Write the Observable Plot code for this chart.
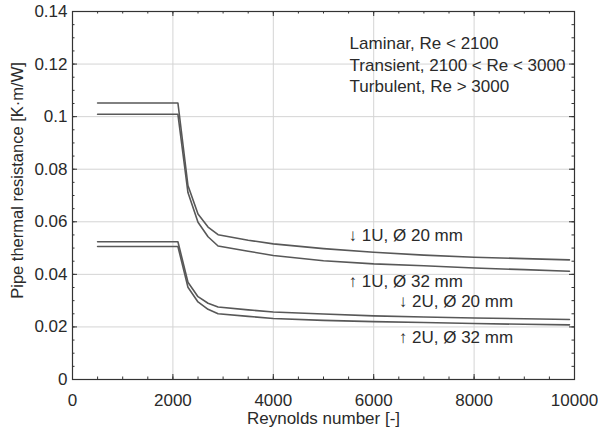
<!DOCTYPE html>
<html>
<head>
<meta charset="utf-8">
<script src="https://cdn.jsdelivr.net/npm/d3@7"></script>
<script src="https://cdn.jsdelivr.net/npm/@observablehq/plot@0.6"></script>
<style>
  html, body { margin: 0; padding: 0; background: #fff; }
</style>
</head>
<body>
<div id="chart"></div>
<script>
// Reynolds numbers sampled along the curves
const re = [500, 2100, 2300, 2500, 2700, 2900, 3500, 4000, 5000, 6000, 7000, 8000, 9000, 9900];
// Pipe thermal resistance [K·m/W]
const r1U20 = [0.1052, 0.1052, 0.0738, 0.0630, 0.0580, 0.0551, 0.0530, 0.0516, 0.0498, 0.0484, 0.0473, 0.0465, 0.0460, 0.0455];
const r1U32 = [0.1009, 0.1009, 0.0711, 0.0598, 0.0543, 0.0508, 0.0488, 0.0472, 0.0452, 0.0440, 0.0433, 0.0424, 0.0418, 0.0412];
const r2U20 = [0.0524, 0.0524, 0.0370, 0.0315, 0.0290, 0.0276, 0.0265, 0.0257, 0.0249, 0.0242, 0.0238, 0.0234, 0.0231, 0.0228];
const r2U32 = [0.0506, 0.0506, 0.0351, 0.0295, 0.0267, 0.0250, 0.0240, 0.0232, 0.0225, 0.0220, 0.0217, 0.0213, 0.0210, 0.0208];

const seriesNames = ["1U20", "1U32", "2U20", "2U32"];
const seriesValues = [r1U20, r1U32, r2U20, r2U32];

const xTicks = [0, 2000, 4000, 6000, 8000, 10000];
const yTicks = [0, 0.02, 0.04, 0.06, 0.08, 0.1, 0.12, 0.14];
const xMinor = d3.range(0, 10001, 500);
const yMinor = d3.range(0, 0.1401, 0.005);

const regimeText = ["Laminar, Re < 2100", "Transient, 2100 < Re < 3000", "Turbulent, Re > 3000"];
const regimeY = [0.1278, 0.1195, 0.1115];
const regimeX = 5520;

const curveText = ["\u2193 1U, \u00D8 20 mm", "\u2191 1U, \u00D8 32 mm", "\u2193 2U, \u00D8 20 mm", "\u2191 2U, \u00D8 32 mm"];
const curveX = [5500, 5500, 6500, 6500];
const curveY = [0.0548, 0.0373, 0.0297, 0.0160];

const xLabel = "Reynolds number [-]";
const yLabel = "Pipe thermal resistance [K\u00B7m/W]";

const rows = seriesNames.flatMap((s, i) => re.map((x, j) => ({series: s, x, y: seriesValues[i][j]})));
const regimes = regimeText.map((t, i) => ({t, x: regimeX, y: regimeY[i]}));
const curves = curveText.map((t, i) => ({t, x: curveX[i], y: curveY[i]}));

const W = 598, H = 436;
const mL = 72, mR = 24, mT = 11, mB = 57;
const iw = W - mL - mR, ih = H - mT - mB;
const ink = "#333";
const txt = "#2a2a2a";

const chart = Plot.plot({
  width: W,
  height: H,
  marginLeft: mL,
  marginRight: mR,
  marginTop: mT,
  marginBottom: mB,
  style: {fontFamily: "'Liberation Sans', Arial, sans-serif", fontSize: "17px", color: txt, background: "#fff"},
  x: {domain: [0, 10000]},
  y: {domain: [0, 0.14]},
  marks: [
    Plot.gridX(xTicks, {stroke: "#d4d4d4", strokeOpacity: 1}),
    Plot.gridY(yTicks, {stroke: "#d4d4d4", strokeOpacity: 1}),
    // inward ticks
    Plot.tickX(xMinor, {x: d => d, insetTop: ih - 2.5, stroke: ink}),
    Plot.tickX(xMinor, {x: d => d, insetBottom: ih - 2.5, stroke: ink}),
    Plot.tickX(xTicks, {x: d => d, insetTop: ih - 5, stroke: ink}),
    Plot.tickX(xTicks, {x: d => d, insetBottom: ih - 5, stroke: ink}),
    Plot.tickY(yMinor, {y: d => d, insetRight: iw - 2.5, stroke: ink}),
    Plot.tickY(yMinor, {y: d => d, insetLeft: iw - 2.5, stroke: ink}),
    Plot.tickY(yTicks, {y: d => d, insetRight: iw - 5, stroke: ink}),
    Plot.tickY(yTicks, {y: d => d, insetLeft: iw - 5, stroke: ink}),
    Plot.axisX({ticks: xTicks, tickSize: 0, tickPadding: 14, tickFormat: d => String(d), label: null, fontSize: 17}),
    Plot.axisY({ticks: yTicks, tickSize: 0, tickPadding: 5, tickFormat: d => String(+d.toFixed(2)), label: null, fontSize: 17}),
    Plot.line(rows, {x: "x", y: "y", z: "series", stroke: "#585858", strokeWidth: 1.6}),
    Plot.text(regimes, {x: "x", y: "y", text: "t", textAnchor: "start", lineAnchor: "middle", fontSize: 17, fill: txt}),
    Plot.text(curves, {x: "x", y: "y", text: "t", textAnchor: "start", lineAnchor: "middle", fontSize: 17, fill: txt}),
    Plot.text([xLabel], {text: d => d, frameAnchor: "bottom", dy: 39, lineAnchor: "middle", textAnchor: "middle", fontSize: 17, fill: txt}),
    Plot.text([yLabel], {text: d => d, frameAnchor: "left", dx: -55, dy: -15, rotate: -90, lineAnchor: "middle", textAnchor: "middle", fontSize: 16.5, fill: txt}),
    Plot.frame({stroke: ink, strokeWidth: 1.2})
  ]
});
document.getElementById("chart").appendChild(chart);
</script>
</body>
</html>
